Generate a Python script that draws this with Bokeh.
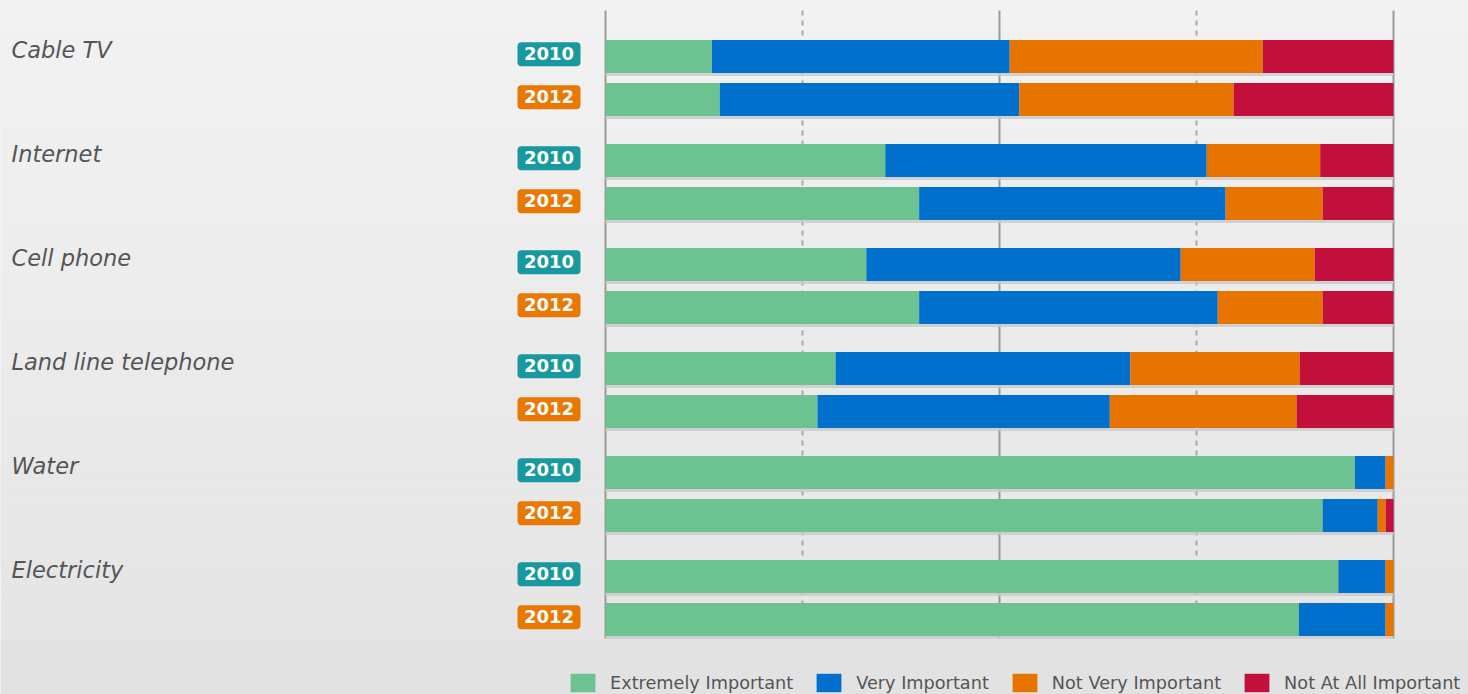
from bokeh.plotting import figure
from bokeh.models import Range1d, ColumnDataSource
from bokeh.core.properties import value
from bokeh.embed import file_html
from bokeh.resources import INLINE

# ---------------- data ----------------
categories = ["Cable TV", "Internet", "Cell phone", "Land line telephone", "Water", "Electricity"]
years = ["2010", "2012"]
series = ["Extremely Important", "Very Important", "Not Very Important", "Not At All Important"]
# values in row order: (Cable TV 2010, Cable TV 2012, Internet 2010, ...)
extremely = [13.5, 14.5, 35.5, 39.8, 33.1, 39.8, 29.2, 26.9, 95.1, 91.0, 93.0, 88.0]
very = [37.8, 38.0, 40.8, 38.9, 39.9, 37.9, 37.4, 37.1, 3.9, 7.0, 6.0, 11.0]
not_very = [32.1, 27.2, 14.4, 12.3, 17.0, 13.3, 21.5, 23.7, 1.0, 1.0, 1.0, 1.0]
not_at_all = [16.6, 20.3, 9.3, 9.0, 10.0, 9.0, 11.9, 12.3, 0.0, 1.0, 0.0, 0.0]
ticks = [0, 25, 50, 75, 100]

# ---------------- layout / style ----------------
W, H = 1468, 694
X0_PX, PX_PER_X = 605, 7.88     # pixel of 0 %, pixels per percent
Y0_PX, PX_PER_ROW = 56, 43      # pixel of first row centre, pixels per row unit
GROUP_GAP = 61 / 43 - 1
BAR_H = 0.77
colors = ["#6cc291", "#0070cc", "#e87400", "#c20f3b"]
badge_colors = {"2010": "#17999f", "2012": "#e87800"}
TEXT_COLOR = "#555555"

def px_x(px):
    return (px - X0_PX) / PX_PER_X

def px_y(px):
    return (px - Y0_PX) / PX_PER_ROW

keys = ["extremely", "very", "not_very", "not_at_all"]
rows_cat, rows_year, rows_pos = [], [], []
for g, cat in enumerate(categories):
    for k, yr in enumerate(years):
        rows_cat.append(cat)
        rows_year.append(yr)
        rows_pos.append(g * (2 + GROUP_GAP) + k)

src = ColumnDataSource(dict(
    pos=rows_pos, year=rows_year,
    extremely=extremely, very=very, not_very=not_very, not_at_all=not_at_all,
    total=[a + b + c + d for a, b, c, d in zip(extremely, very, not_very, not_at_all)],
))

p = figure(width=W, height=H, output_backend="svg", toolbar_location=None,
           x_range=Range1d(px_x(0), px_x(W)), y_range=Range1d(px_y(H), px_y(0)),
           x_axis_location=None, y_axis_location=None, min_border=0)
p.outline_line_color = None
p.background_fill_color = "#ececec"
p.border_fill_color = "#ececec"
p.grid.visible = False

# background gradient bands
N = 40
plot_bottom_px = 640
b_top, b_bot, b_col = [], [], []
for i in range(N):
    t0 = plot_bottom_px * i / N
    t1 = plot_bottom_px * (i + 1) / N
    f = i / (N - 1)
    c = int(round(242 - f * 13))
    b_top.append(px_y(t0)); b_bot.append(px_y(t1)); b_col.append("#%02x%02x%02x" % (c, c, c))
b_top.append(px_y(plot_bottom_px)); b_bot.append(px_y(H)); b_col.append("#e2e2e2")
p.quad(left=px_x(0), right=px_x(W), top=b_top, bottom=b_bot, fill_color=b_col, line_color=None)

# grid lines
g_top, g_bot = px_y(10), px_y(638)
solid = [t for t in ticks if t % 50 == 0]
dashed = [t for t in ticks if t % 50 != 0]
p.segment(x0=solid, x1=solid, y0=g_top, y1=g_bot, line_color="#9a9a9a", line_width=2)
p.segment(x0=dashed, x1=dashed, y0=g_top, y1=g_bot, line_color="#a8a8a8", line_width=2,
          line_dash="5 5")

# bar shadows
shadow_src = ColumnDataSource(dict(
    top=[y + BAR_H / 2 for y in rows_pos],
    bottom=[y + BAR_H / 2 + 3 / PX_PER_ROW for y in rows_pos],
    right=src.data["total"],
))
p.quad(left=0, right="right", top="top", bottom="bottom", source=shadow_src,
       fill_color="#c9c9c9", fill_alpha=0.8, line_color=None)

# stacked bars
p.hbar_stack(keys, y="pos", height=BAR_H, color=colors, source=src,
             legend_label=series, line_color=None)

# category labels
lab_y = [rows_pos[2 * g] - 6.5 / PX_PER_ROW for g in range(len(categories))]
p.text(x=px_x(11), y=lab_y, text=categories, text_font=value("DejaVu Sans"),
       text_font_style="italic", text_font_size="22.5px", text_color=TEXT_COLOR,
       text_baseline="middle", text_align="left")

# year badges
bx = px_x(548.5)
bw = 63 / PX_PER_X
bh = 24 / PX_PER_ROW
bc = [y - 2.3 / PX_PER_ROW for y in rows_pos]
p.quad(left=bx - bw / 2, right=bx + bw / 2,
       top=[c - bh / 2 for c in bc], bottom=[c + bh / 2 for c in bc],
       fill_color=[badge_colors[y] for y in rows_year], line_color=None, border_radius=4)
p.text(x=bx, y=[c - 0.5 / PX_PER_ROW for c in bc], text=rows_year,
       text_font=value("DejaVu Sans"), text_font_style="bold", text_font_size="18px",
       text_color="white", text_align="center", text_baseline="middle")

# legend
lg = p.legend[0]
lg.location = (567, 0)
lg.orientation = "horizontal"
lg.glyph_width = 31
lg.glyph_height = 23
lg.label_standoff = 12
lg.spacing = 20
lg.padding = 0
lg.margin = 0
lg.border_line_color = None
lg.background_fill_alpha = 0
lg.label_text_font = "DejaVu Sans"
lg.label_text_font_size = "17.7px"
lg.label_text_color = TEXT_COLOR
lg.label_height = 23

open("out.html", "w").write(file_html(p, INLINE))
